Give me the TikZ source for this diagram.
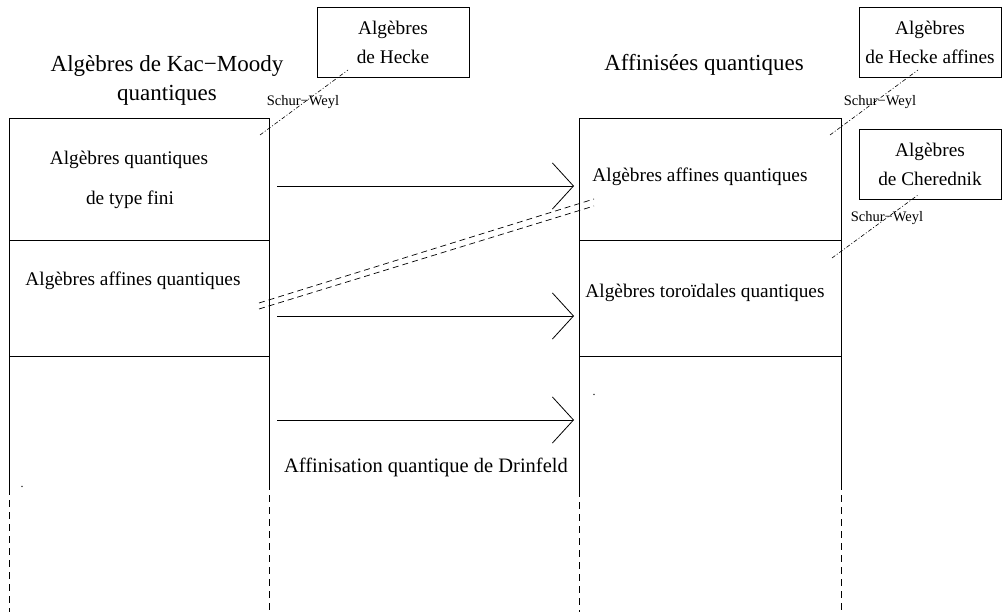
\documentclass[tikz,border=0pt]{standalone}
\usepackage{fontspec}
\setmainfont{Liberation Serif}
\usetikzlibrary{arrows.meta}
\begin{document}
\begin{tikzpicture}[x=1pt,y=-1pt, line width=0.8pt,
  body/.style={inner sep=0pt, font=\fontsize{19.3}{23}\selectfont},
  ttl/.style={inner sep=0pt, align=center, font=\fontsize{23}{29}\selectfont},
  drin/.style={inner sep=0pt, font=\fontsize{20.5}{24}\selectfont},
  sw/.style={inner sep=0pt, font=\fontsize{14.5}{17}\selectfont},
  sidebox/.style={draw, line width=0.8pt, inner sep=0pt, align=center, font=\fontsize{19.3}{29}\selectfont},
  arr/.style={line width=0.8pt, -{Straight Barb[length=21pt,width=46pt,line width=0.8pt]}},
  dd/.style={dash pattern=on 6pt off 4pt, line width=0.7pt},
  vd/.style={dash pattern=on 7pt off 5pt, line width=0.8pt},
  sch/.style={dash pattern=on 4pt off 2pt on 1pt off 2pt, line width=0.6pt},
  dotnode/.style={inner sep=0pt, font=\fontsize{12}{12}\selectfont}]
\useasboundingbox (0,0) rectangle (1002,612);

% left frame
\draw (9,488) -- (9,118) -- (269,118) -- (269,483);
\draw (9,240) -- (269,240);
\draw (9,356) -- (269,356);
\draw[vd] (9,488) -- (9,612);
\draw[vd] (269,483) -- (269,612);

% right frame
\draw (579,490) -- (579,118) -- (841,118) -- (841,483);
\draw (579,240) -- (841,240);
\draw (579,356) -- (841,356);
\draw[vd] (579,490) -- (579,612);
\draw[vd] (841,483) -- (841,612);

% titles
\node[ttl] (t1) at (167,80) {Algèbres de Kac−Moody\\quantiques};
\node[ttl] (t2) at (704,65) {Affinisées quantiques};

% left texts
\node[body] (l1) at (129,160) {Algèbres quantiques};
\node[body] (l2) at (130,200) {de type fini};
\node[body] (l3) at (133,281) {Algèbres affines quantiques};

% right texts
\node[body] (r1) at (700,177) {Algèbres affines quantiques};
\node[body] (r2) at (705,293) {Algèbres toroïdales quantiques};

\node[drin] (dr) at (426,467) {Affinisation quantique de Drinfeld};

% side boxes
\node[sidebox, minimum width=152pt, minimum height=70pt] (hecke) at (393,42) {Algèbres\\de Hecke};
\node[sidebox, minimum width=142pt, minimum height=70pt] (heckeaff) at (930,42) {Algèbres\\de Hecke affines};
\node[sidebox, minimum width=142pt, minimum height=70pt] (chered) at (930,164) {Algèbres\\de Cherednik};

% arrows
\coordinate (a1s) at (277,186); \coordinate (a1e) at (574,186);
\coordinate (a2s) at (277,316); \coordinate (a2e) at (574,316);
\coordinate (a3s) at (277,420); \coordinate (a3e) at (574,420);
\draw[arr] (a1s) -- (a1e);
\draw[arr] (a2s) -- (a2e);
\draw[arr] (a3s) -- (a3e);

% double dashed
\coordinate (d1s) at (259,303); \coordinate (d1e) at (594,199);
\coordinate (d2s) at (259,309); \coordinate (d2e) at (594,206);
\draw[dd] (d1s) -- (d1e);
\draw[dd] (d2s) -- (d2e);

% Schur-Weyl
\coordinate (s1a) at (260,135); \coordinate (s1b) at (348,70);
\coordinate (s2a) at (830,135); \coordinate (s2b) at (918,70);
\coordinate (s3a) at (832,258); \coordinate (s3b) at (918,195);
\draw[sch] (s1a) -- (s1b);
\draw[sch] (s2a) -- (s2b);
\draw[sch] (s3a) -- (s3b);
\node[sw] (sw1) at (303,102) {Schur−Weyl};
\node[sw] (sw2) at (880,102) {Schur−Weyl};
\node[sw] (sw3) at (887,218) {Schur−Weyl};

% stray dots
\node[dotnode] (p1) at (22,487) {.};
\node[dotnode] (p2) at (594,395) {.};
\end{tikzpicture}
\end{document}
